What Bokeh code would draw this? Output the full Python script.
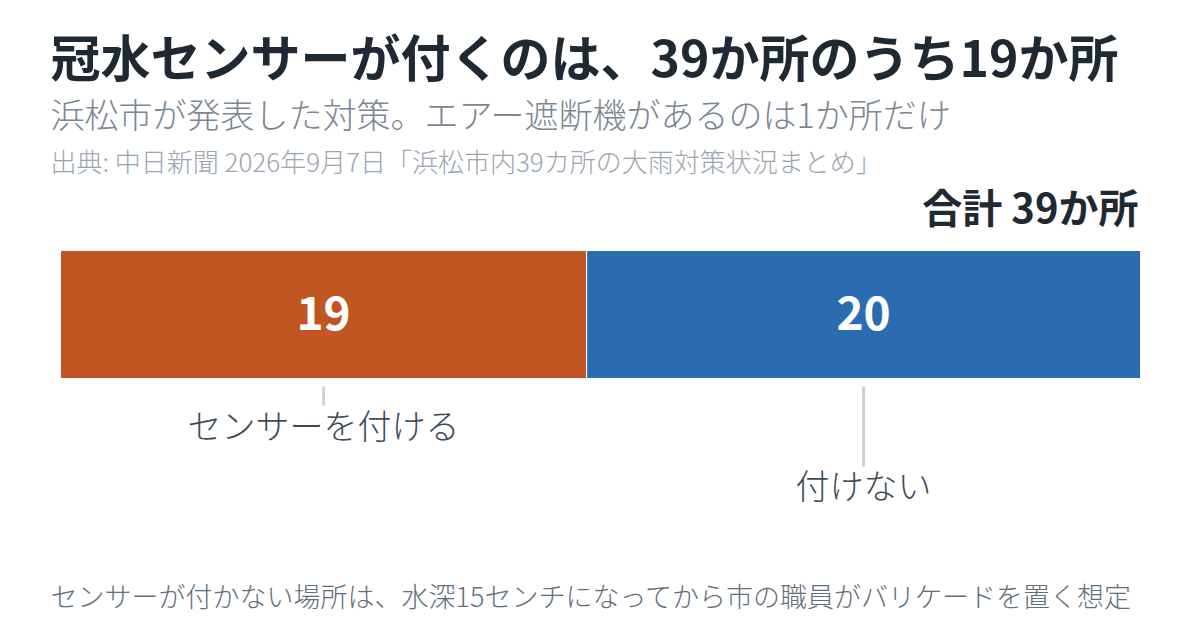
from bokeh.plotting import figure
from bokeh.models import Range1d, ColumnDataSource
from bokeh.core.properties import value
from bokeh.embed import file_html
from bokeh.resources import INLINE

# ---- data ----
categories = ["センサーを付ける", "付けない"]
counts = [19, 20]
bar_colors = ["#c05621", "#2b6cb0"]
title_text = "冠水センサーが付くのは、39か所のうち19か所"
subtitle_text = "浜松市が発表した対策。エアー遮断機があるのは1か所だけ"
source_text = "出典: 中日新聞 2026年9月7日「浜松市内39カ所の大雨対策状況まとめ」"
total_label = "合計 39か所"
footnote_text = "センサーが付かない場所は、水深15センチになってから市の職員がバリケードを置く想定"

# ---- layout (pixels inside figure) ----
W, H = 1184, 624
bar_left_px, bar_right_px = 60, 1140
total = sum(counts)
k = (bar_right_px - bar_left_px) / total
x0 = -bar_left_px / k
x1 = x0 + W / k

def px(xp):
    return x0 + xp / k

FONT = "Noto Sans CJK JP"
LIGHT = "Noto Sans CJK JP Light"

p = figure(width=W, height=H, x_range=Range1d(x0, x1), y_range=Range1d(H, 0),
           output_backend="svg", toolbar_location=None, min_border=0,
           background_fill_color="white", border_fill_color="white")
p.axis.visible = False
p.grid.visible = False
p.outline_line_color = None

lefts = [sum(counts[:i]) for i in range(len(counts))]
rights = [l + c for l, c in zip(lefts, counts)]
mids = [(l + r) / 2 for l, r in zip(lefts, rights)]
src = ColumnDataSource(dict(left=lefts, right=rights, mid=mids, cnt=[str(c) for c in counts],
                            color=bar_colors, cat=categories))

bar_top, bar_bot = 250, 378
p.quad(left="left", right="right", top=bar_top, bottom=bar_bot, fill_color="color",
       line_color="white", line_width=1, source=src)
p.text(x="mid", y=312, text="cnt", text_color="white",
       text_font=value(FONT), text_font_size="46px", text_font_style="bold",
       text_align="center", text_baseline="middle", source=src)

# leader lines and category labels
line_ends = [405, 466]
label_ys = [424, 484]
p.segment(x0=mids, y0=[386, 386], x1=mids, y1=line_ends, line_color="#cbd2d9", line_width=3)
p.text(x=mids, y=label_ys, text=categories, text_color="#3e4c59",
       text_font=value(LIGHT), text_font_size="34px", text_align="center",
       text_baseline="middle")

# titles
p.text(x=[px(50)], y=[54], text=[title_text], text_color="#1f2933", text_font=value(FONT),
       text_font_size="50px", text_font_style="bold", text_baseline="middle")
p.text(x=[px(50)], y=[113], text=[subtitle_text], text_color="#7b8794", text_font=value(LIGHT),
       text_font_size="34px", text_baseline="middle")
p.text(x=[px(50)], y=[160], text=[source_text], text_color="#9aa5b1", text_font=value(LIGHT),
       text_font_size="26px", text_baseline="middle")
p.text(x=[px(1138)], y=[205], text=[total_label], text_color="#1f2933", text_font=value(FONT),
       text_font_size="40px", text_font_style="bold", text_align="right", text_baseline="middle")
p.text(x=[px(50)], y=[595], text=[footnote_text], text_color="#616e7c", text_font=value(LIGHT),
       text_font_size="27px", text_baseline="middle")

open("out.html", "w").write(file_html(p, INLINE))
